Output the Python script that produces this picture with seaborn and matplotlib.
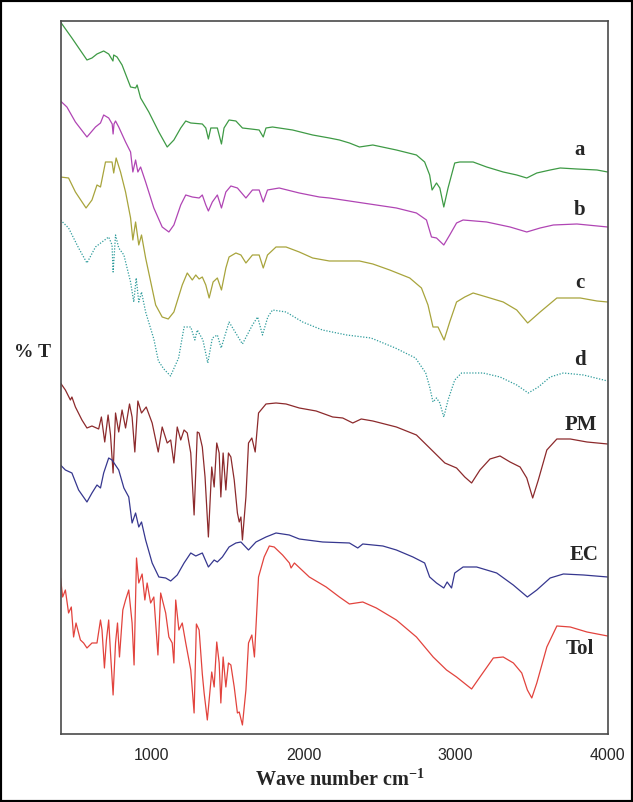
import seaborn as sns
import matplotlib.pyplot as plt
from matplotlib.patches import Rectangle

# FTIR spectra: wave number (cm-1) and %T (stacked, arbitrary offset units)
wn_a = [400, 475, 574, 607, 640, 684, 717, 745, 750, 772, 805, 861, 894, 904, 927, 981, 1047, 1102,
        1146, 1191, 1224, 1257, 1333, 1356, 1373, 1389, 1432, 1459, 1476, 1509, 1554, 1597, 1653,
        1707, 1734, 1752, 1795, 1927, 2059, 2169, 2235, 2301, 2367, 2455, 2610, 2742, 2796, 2829,
        2845, 2874, 2896, 2922, 2950, 2994, 3027, 3115, 3204, 3313, 3402, 3468, 3534, 3622, 3688,
        3798, 3930, 4000]
t_a = [71.2, 69.6, 67.4, 67.6, 68.0, 68.3, 68.0, 67.3, 67.9, 67.7, 66.9, 64.7, 64.6, 64.9, 63.6, 62.2,
       60.2, 58.7, 59.4, 60.6, 61.3, 61.1, 61.0, 60.6, 59.5, 60.6, 60.6, 59.0, 60.6, 61.4, 61.3, 60.6,
       60.5, 60.4, 59.7, 60.6, 60.7, 60.4, 59.9, 59.6, 59.4, 59.1, 58.7, 58.9, 58.4, 57.9, 57.2, 55.9,
       54.4, 55.1, 54.6, 52.7, 54.6, 57.1, 57.2, 57.2, 56.7, 56.2, 55.9, 55.6, 56.1, 56.4, 56.6, 56.5,
       56.4, 56.2]

wn_b = [400, 442, 498, 574, 630, 663, 684, 717, 740, 746, 752, 762, 783, 828, 861, 876, 894, 909, 927,
        960, 1014, 1069, 1113, 1146, 1191, 1224, 1267, 1312, 1333, 1356, 1373, 1399, 1432, 1459, 1488,
        1521, 1564, 1620, 1663, 1707, 1734, 1762, 1839, 1971, 2103, 2169, 2389, 2610, 2742, 2808,
        2841, 2874, 2922, 2961, 3006, 3049, 3204, 3358, 3468, 3556, 3643, 3798, 4000]
t_b = [63.3, 62.7, 61.2, 59.7, 60.7, 61.1, 61.9, 61.6, 61.0, 60.0, 61.0, 61.3, 60.7, 59.2, 58.2, 56.2,
       57.4, 56.2, 56.7, 55.2, 52.6, 50.7, 50.2, 50.9, 52.9, 53.9, 53.7, 53.6, 53.9, 52.9, 52.3, 53.2,
       53.9, 52.6, 54.2, 54.8, 54.6, 53.6, 54.4, 54.4, 53.2, 54.4, 54.6, 54.1, 53.7, 53.6, 53.1, 52.6,
       52.1, 51.4, 49.7, 49.6, 48.9, 49.9, 51.1, 51.4, 51.2, 50.7, 50.2, 50.6, 50.9, 51.0, 50.7]

wn_c = [400, 453, 498, 568, 607, 640, 663, 696, 739, 750, 766, 795, 828, 861, 876, 894, 915, 933, 960,
        1026, 1069, 1109, 1146, 1201, 1234, 1267, 1290, 1312, 1333, 1356, 1378, 1404, 1432, 1459,
        1488, 1509, 1554, 1587, 1620, 1663, 1707, 1734, 1762, 1818, 1884, 1971, 2059, 2169, 2367,
        2455, 2566, 2698, 2775, 2818, 2851, 2884, 2924, 2961, 3006, 3060, 3115, 3204, 3313, 3402,
        3474, 3556, 3666, 3820, 3930, 4000]
t_c = [55.7, 55.6, 54.2, 52.6, 53.4, 54.9, 54.7, 57.2, 57.2, 56.1, 57.6, 56.2, 54.2, 51.6, 49.4, 51.2,
       48.9, 49.9, 47.6, 42.9, 41.7, 41.5, 42.2, 44.9, 46.1, 45.4, 45.9, 45.5, 45.7, 44.9, 43.6, 45.2,
       45.6, 44.4, 46.6, 47.7, 48.1, 47.9, 47.1, 47.9, 47.9, 46.6, 47.9, 48.7, 48.7, 48.2, 47.6, 47.3,
       47.3, 47.0, 46.4, 45.6, 44.6, 42.9, 40.7, 40.7, 39.4, 41.2, 43.2, 43.7, 44.1, 43.7, 43.2, 42.4,
       41.1, 42.2, 43.6, 43.6, 43.3, 43.2]

wn_d = [400, 453, 519, 574, 630, 673, 717, 739, 746, 762, 783, 817, 838, 861, 882, 898, 915, 933, 960,
        1014, 1044, 1080, 1124, 1177, 1213, 1257, 1284, 1300, 1337, 1369, 1399, 1432, 1457, 1509,
        1597, 1663, 1697, 1729, 1764, 1795, 1884, 1993, 2123, 2283, 2443, 2603, 2736, 2803, 2829,
        2851, 2874, 2896, 2922, 2950, 2994, 3039, 3094, 3181, 3292, 3402, 3478, 3544, 3622, 3709,
        3841, 4000]
t_d = [51.4, 50.6, 48.6, 47.1, 48.7, 49.2, 49.7, 48.9, 46.2, 49.9, 48.6, 47.9, 46.6, 45.2, 43.2, 45.6,
       43.2, 44.2, 42.2, 39.5, 37.3, 36.5, 35.8, 37.6, 40.7, 40.7, 39.4, 40.4, 39.4, 37.1, 39.6, 39.9,
       38.6, 41.2, 39.0, 40.9, 41.7, 39.9, 41.7, 42.4, 42.2, 41.2, 40.4, 39.9, 39.6, 38.6, 37.6, 36.1,
       34.7, 33.2, 33.6, 33.1, 31.7, 33.4, 35.4, 36.1, 36.1, 36.1, 35.7, 34.9, 34.1, 34.7, 35.7, 36.1,
       35.9, 35.3]

wn_pm = [400, 432, 465, 475, 498, 541, 574, 607, 651, 669, 691, 713, 729, 746, 762, 783, 805, 828, 854,
         871, 889, 909, 933, 964, 1003, 1043, 1069, 1102, 1125, 1146, 1168, 1191, 1213, 1234, 1257,
         1279, 1300, 1312, 1333, 1351, 1373, 1395, 1411, 1428, 1444, 1455, 1470, 1488, 1505, 1521,
         1543, 1564, 1576, 1587, 1597, 1620, 1637, 1659, 1681, 1703, 1752, 1818, 1884, 1971, 2082,
         2191, 2257, 2323, 2379, 2455, 2610, 2742, 2829, 2929, 3006, 3060, 3105, 3160, 3226, 3292,
         3358, 3424, 3468, 3507, 3544, 3600, 3666, 3754, 3864, 4000]
t_pm = [35.1, 34.4, 33.4, 33.7, 32.7, 31.4, 30.6, 30.8, 30.5, 31.7, 29.2, 31.9, 29.9, 26.1, 32.1, 30.2,
        32.4, 30.6, 33.0, 31.7, 28.2, 33.3, 32.1, 32.7, 31.1, 28.2, 30.7, 29.1, 29.4, 27.1, 30.7, 29.4,
        30.4, 30.1, 28.1, 21.9, 30.2, 30.1, 28.7, 25.7, 19.7, 26.7, 24.7, 29.1, 28.1, 23.7, 28.1, 24.4,
        28.1, 27.7, 25.4, 22.1, 21.2, 21.7, 19.4, 23.7, 29.1, 29.6, 28.2, 32.1, 33.0, 33.1, 33.0, 32.6,
        32.3, 31.7, 31.6, 31.1, 31.5, 31.3, 30.7, 29.9, 28.6, 27.1, 26.6, 25.7, 25.1, 26.4, 27.5, 27.8,
        27.2, 26.7, 25.6, 23.6, 25.4, 28.4, 29.5, 29.5, 29.2, 29.0]

wn_ec = [400, 432, 475, 519, 574, 607, 640, 663, 684, 717, 739, 783, 817, 849, 871, 894, 915, 933, 960,
         1003, 1047, 1092, 1125, 1168, 1213, 1257, 1290, 1333, 1373, 1411, 1432, 1465, 1509, 1554,
         1587, 1637, 1686, 1752, 1818, 1905, 1971, 2125, 2301, 2356, 2389, 2521, 2610, 2719, 2796,
         2829, 2874, 2922, 2944, 2973, 2994, 3049, 3138, 3270, 3379, 3472, 3534, 3622, 3709, 3841, 4000]
t_ec = [26.9, 26.4, 26.1, 24.4, 23.2, 24.1, 24.9, 24.6, 26.1, 27.6, 27.4, 26.4, 24.6, 23.7, 21.1, 22.1,
        20.7, 21.2, 19.4, 17.1, 15.7, 15.6, 15.3, 15.9, 17.1, 18.1, 17.8, 18.1, 16.7, 17.4, 17.2, 17.7,
        18.7, 19.1, 19.2, 18.4, 19.2, 19.7, 20.1, 19.9, 19.5, 19.2, 19.1, 18.6, 19.0, 18.8, 18.4, 17.7,
        17.1, 15.7, 15.1, 14.6, 15.2, 14.6, 16.1, 16.7, 16.7, 16.1, 14.9, 13.7, 14.4, 15.6, 16.0, 15.9,
        15.7]

wn_tol = [400, 414, 432, 453, 471, 486, 502, 531, 552, 574, 607, 640, 663, 673, 689, 702, 717, 729, 746,
          762, 775, 788, 810, 828, 849, 871, 884, 900, 915, 937, 955, 970, 993, 1014, 1041, 1059, 1092,
          1113, 1135, 1146, 1158, 1179, 1201, 1224, 1257, 1279, 1294, 1312, 1333, 1345, 1366, 1395,
          1411, 1428, 1444, 1455, 1470, 1488, 1505, 1521, 1543, 1564, 1576, 1597, 1620, 1637, 1659,
          1676, 1703, 1740, 1774, 1806, 1861, 1906, 1917, 1939, 2037, 2148, 2235, 2301, 2389, 2478,
          2610, 2742, 2852, 2940, 3006, 3105, 3160, 3248, 3313, 3380, 3435, 3472, 3501, 3534, 3600,
          3666, 3754, 3864, 4000]
t_tol = [15.6, 13.7, 14.4, 12.1, 12.7, 9.7, 11.1, 9.4, 9.1, 8.6, 9.1, 9.1, 11.4, 10.4, 6.6, 9.4, 11.4,
         8.1, 3.9, 9.1, 11.1, 7.7, 12.4, 13.4, 14.4, 11.1, 6.9, 17.6, 15.1, 16.0, 13.4, 15.1, 13.1, 13.7,
         7.9, 14.1, 12.1, 9.7, 9.1, 7.1, 13.4, 10.4, 11.1, 9.1, 6.4, 2.1, 11.0, 10.4, 6.0, 4.1, 1.4, 6.2,
         4.7, 9.2, 7.1, 3.1, 7.7, 4.7, 7.1, 6.9, 4.7, 2.1, 2.2, 0.9, 4.4, 9.1, 9.9, 7.7, 15.7, 17.7,
         18.8, 18.7, 17.9, 17.1, 16.6, 17.1, 15.7, 14.7, 13.7, 13.0, 13.2, 12.6, 11.4, 9.7, 7.7, 6.4,
         5.7, 4.5, 5.7, 7.6, 7.7, 7.1, 6.1, 4.4, 3.6, 5.1, 8.7, 10.8, 10.7, 10.2, 9.8]

sample_names = ['a', 'b', 'c', 'd', 'PM', 'EC', 'Tol']

sns.set_style('white')
plt.rcParams['font.family'] = ['Liberation Sans', 'DejaVu Sans']
plt.rcParams['mathtext.fontset'] = 'custom'
plt.rcParams['mathtext.rm'] = 'Liberation Serif:bold'
plt.rcParams['mathtext.it'] = 'Liberation Serif:bold'
plt.rcParams['mathtext.bf'] = 'Liberation Serif:bold'

fig = plt.figure(figsize=(6.33, 8.02), dpi=100)
ax = fig.add_axes([0.0956, 0.0848, 0.8643, 0.8884])

# spectra: data, colour, line style, label position (wave number, %T)
spectra = [
    (wn_a, t_a, '#3e9a45', '-', (3815, 58.4)),
    (wn_b, t_b, '#b045b4', '-', (3815, 52.4)),
    (wn_c, t_c, '#a8a43c', '-', (3815, 45.1)),
    (wn_d, t_d, '#2f9c9c', (0, (1, 1.3)), (3815, 37.4)),
    (wn_pm, t_pm, '#8c2a2c', '-', (3826, 30.9)),
    (wn_ec, t_ec, '#36378f', '-', (3846, 17.9)),
    (wn_tol, t_tol, '#e2433d', '-', (3815, 8.5)),
]

for name, (wn, t, color, ls, pos) in zip(sample_names, spectra):
    sns.lineplot(x=wn, y=t, ax=ax, color=color, linewidth=0.9, linestyle=ls,
                 estimator=None, sort=False)
    ax.text(pos[0], pos[1], name, ha='center', va='center', fontsize=15,
            fontweight='bold', family='Liberation Serif')

ax.set_xlim(400, 4000)
ax.set_ylim(0, 71.25)
ax.set_xticks([1000, 2000, 3000, 4000])
ax.set_yticks([])
ax.set_xlabel('')
ax.set_ylabel('')
ax.tick_params(axis='x', direction='out', length=3, width=1, labelsize=11.5, pad=7, color='#444444')
for s in ax.spines.values():
    s.set_color('#4a4a4a')
    s.set_linewidth(1.2)

# axis titles
fig.text(0.537, 0.027, r'Wave number cm$^{-1}$', ha='center', va='center', fontsize=14.5,
         fontweight='bold', family='Liberation Serif')
fig.text(0.052, 0.56, '% T', ha='center', va='center', fontsize=14,
         fontweight='bold', family='Liberation Serif')

# black frame round the whole picture
fig.patches.append(Rectangle((0, 0), 1, 1, transform=fig.transFigure, fill=False,
                             edgecolor='black', linewidth=3))

plt.savefig('out.png', dpi=100)
